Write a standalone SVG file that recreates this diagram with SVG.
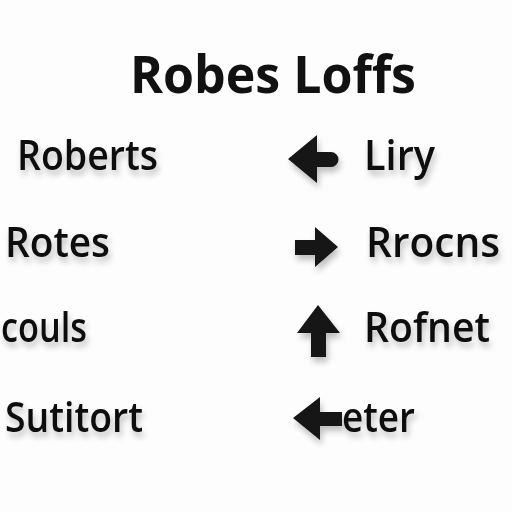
<svg xmlns="http://www.w3.org/2000/svg" width="512" height="512" viewBox="0 0 512 512">
<defs>
<filter id="sh" x="-20%" y="-30%" width="140%" height="180%">
<feGaussianBlur in="SourceAlpha" stdDeviation="3"/>
<feOffset dx="2" dy="5" result="b"/>
<feComponentTransfer><feFuncA type="linear" slope="0.25"/></feComponentTransfer>
<feMerge><feMergeNode/><feMergeNode in="SourceGraphic"/></feMerge>
</filter>
</defs>
<style>
.t{font-family:"Open Sans","Liberation Sans",sans-serif;font-size:52px;font-weight:bold;fill:#111}
.l{font-family:"Open Sans","Liberation Sans",sans-serif;font-size:41px;font-weight:600;fill:#111;filter:url(#sh)}
.a{fill:#151515;filter:url(#sh)}
</style>
<rect width="512" height="512" fill="#fdfdfd"/>
<g id="title"><text class="t" x="130" y="93" textLength="286" lengthAdjust="spacingAndGlyphs">Robes Loffs</text></g>
<g id="n-roberts"><text class="l" x="17" y="170" textLength="141" lengthAdjust="spacingAndGlyphs">Roberts</text></g>
<g id="n-liry"><text class="l" x="364" y="170" textLength="71" lengthAdjust="spacingAndGlyphs">Liry</text></g>
<g id="n-rotes"><text class="l" x="5" y="257" textLength="105" lengthAdjust="spacingAndGlyphs">Rotes</text></g>
<g id="n-rrocns"><text class="l" x="366" y="257" textLength="134" lengthAdjust="spacingAndGlyphs">Rrocns</text></g>
<g id="n-couls"><text class="l" x="1" y="342" textLength="86" lengthAdjust="spacingAndGlyphs">couls</text></g>
<g id="n-rofnet"><text class="l" x="364" y="342" textLength="126" lengthAdjust="spacingAndGlyphs">Rofnet</text></g>
<g id="n-sutitort"><text class="l" x="5" y="432" textLength="138" lengthAdjust="spacingAndGlyphs">Sutitort</text></g>
<g id="n-eter"><text class="l" x="342" y="432" textLength="73" lengthAdjust="spacingAndGlyphs">eter</text></g>
<g id="connectors">
<path class="a" d="M288,159 L317,135 L317,152 L331,152 A7.5,7.5 0 0 1 331,167 L317,167 L317,183 Z"/>
<path class="a" d="M295,240 L315,240 L315,227 L338,247 L315,267 L315,255 L295,255 Z"/>
<path class="a" d="M318,305 L340,333 L326,333 L326,357 L311,357 L311,333 L297,333 Z"/>
<path class="a" d="M293,418 L320,397 L320,412 L342,412 L342,426 L320,426 L320,440 Z"/>
</g>
</svg>
